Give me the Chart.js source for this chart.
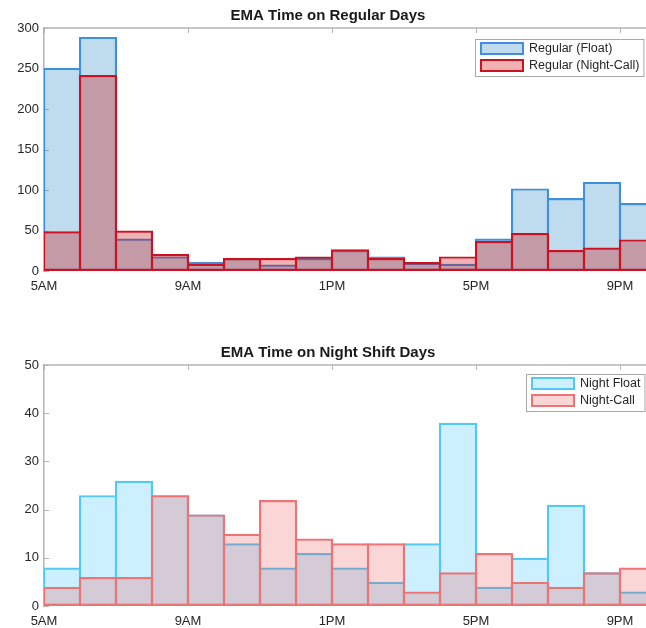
<!DOCTYPE html>
<html>
<head>
<meta charset="utf-8">
<script src="https://cdn.jsdelivr.net/npm/chart.js@4.4.0/dist/chart.umd.min.js"></script>
<style>
  html, body { margin:0; padding:0; background:#fff; overflow:hidden; width:646px; height:628px; }
  .wrap { position:absolute; left:0; width:700px; }
</style>
</head>
<body>
<div class="wrap" style="top:0;height:300px"><canvas id="chart-regular"></canvas></div>
<div class="wrap" style="top:335px;height:293px"><canvas id="chart-night"></canvas></div>
<script>
// hour bins (start of each 1h bin, 5AM .. 9PM)
const binStarts   = [5,6,7,8,9,10,11,12,13,14,15,16,17,18,19,20,21];
const tickHours   = [5,9,13,17,21];
const tickLabels  = ['5AM','9AM','1PM','5PM','9PM'];

// EMA counts, regular days
const regularFloat     = [251,289,40,18,11,16,8,16,26,18,10,9,40,102,90,110,84];
const regularNightCall = [49,242,50,21,9,16,16,18,27,16,11,18,37,47,26,29,39];

// EMA counts, night shift days
const nightFloat = [8,23,26,23,19,13,8,11,8,5,13,38,4,10,21,7,3];
const nightCall  = [4,6,6,23,19,15,22,14,13,13,3,7,11,5,4,7,8];

const FONT = "'Liberation Sans', Arial, sans-serif";
Chart.defaults.font.family = FONT;
Chart.defaults.color = '#262626';

const toPoints = vals => binStarts.map((h, i) => ({x: h + 0.5, y: vals[i]}));

// axis frame: top line + inward tick marks (matlab style)
const axesFrame = {
  id: 'axesFrame',
  beforeDatasetsDraw(chart) {
    const {ctx, chartArea: a, scales: {x, y}} = chart;
    ctx.save();
    ctx.strokeStyle = '#b4b4b4';
    ctx.lineWidth = 1.5;
    ctx.beginPath(); ctx.moveTo(a.left, a.top); ctx.lineTo(a.right, a.top); ctx.stroke();
    ctx.lineWidth = 1;
    ctx.beginPath();
    x.ticks.forEach(t => {
      const px = Math.round(x.getPixelForValue(t.value)) + 0.5;
      ctx.moveTo(px, a.top); ctx.lineTo(px, a.top + 5);
    });
    y.ticks.forEach(t => {
      const py = Math.round(y.getPixelForValue(t.value)) + 0.5;
      ctx.moveTo(a.left, py); ctx.lineTo(a.left + 5, py);
    });
    ctx.stroke();
    ctx.restore();
  }
};

// boxed legend in the top-right corner of the axes
const boxLegend = {
  id: 'boxLegend',
  afterDraw(chart, args, opts) {
    const {ctx, chartArea: a} = chart;
    const sets = chart.data.datasets;
    ctx.save();
    ctx.font = '12.5px ' + FONT;
    const textW = Math.max(...sets.map(d => ctx.measureText(d.label).width));
    const sw = 44, sh = 13, rowH = 17;
    const w = 5 + sw + 5 + textW + 4;
    const h = sets.length * rowH + 3;
    const bx = Math.round(a.right - opts.right - w), by = Math.round(a.top + opts.top);
    ctx.fillStyle = '#fff';
    ctx.fillRect(bx, by, w, h);
    ctx.strokeStyle = '#a8a8a8'; ctx.lineWidth = 1;
    ctx.strokeRect(bx + 0.5, by + 0.5, w, h);
    sets.forEach((d, i) => {
      const ry = by + 3 + i * rowH;
      ctx.fillStyle = d.backgroundColor;
      ctx.fillRect(bx + 5, ry, sw, sh);
      ctx.strokeStyle = d.borderColor; ctx.lineWidth = 2;
      ctx.strokeRect(bx + 6, ry + 1, sw - 2, sh - 2);
      ctx.fillStyle = '#262626'; ctx.textBaseline = 'middle';
      ctx.fillText(d.label, bx + 5 + sw + 5, ry + sh / 2 + 0.5);
    });
    ctx.restore();
  }
};

function histChart(id, title, sets, yMax, yStep, titlePad, xHeight, legendPos) {
  return new Chart(document.getElementById(id), {
    type: 'bar',
    data: {
      datasets: sets.map(s => ({
        label: s.label, data: toPoints(s.values),
        backgroundColor: s.fill, borderColor: s.border, borderWidth: 2.2,
        borderSkipped: false, grouped: false, order: s.order,
        // slight overlap so neighbouring edges merge into one line
        barPercentage: 1.06, categoryPercentage: 1,
      }))
    },
    options: {
      responsive: true, maintainAspectRatio: false,
      animation: false, events: [],
      layout: {padding: {left: 0, right: 44, top: 0, bottom: 0}},
      plugins: {
        legend: {display: false},
        tooltip: {enabled: false},
        title: {display: true, text: title, color: '#1a1a1a',
                font: {size: 15, weight: 'bold'}, padding: titlePad},
        boxLegend: legendPos,
      },
      scales: {
        x: {
          type: 'linear', min: 5, max: 22, offset: false,
          afterBuildTicks: s => { s.ticks = tickHours.map(v => ({value: v})); },
          afterFit: s => { s.height = xHeight; },
          ticks: {callback: v => tickLabels[tickHours.indexOf(v)] ?? '', autoSkip: false,
                  maxRotation: 0, padding: 8, font: {size: 13}, color: '#262626'},
          grid: {display: false, drawTicks: false, offset: false},
          border: {display: false},
        },
        y: {
          min: 0, max: yMax,
          afterFit: s => { s.width = 44; },
          ticks: {stepSize: yStep, padding: 5, font: {size: 13}, color: '#262626'},
          grid: {display: false, drawTicks: false},
          border: {display: true, color: '#b4b4b4', width: 1.5},
        }
      }
    },
    plugins: [axesFrame, boxLegend]
  });
}

histChart('chart-regular', 'EMA Time on Regular Days', [
  {label: 'Regular (Float)',      values: regularFloat,     fill: 'rgba(0,114,189,0.25)', border: '#3f8fdb', order: 2},
  {label: 'Regular (Night-Call)', values: regularNightCall, fill: 'rgba(204,0,0,0.3)',    border: '#cc1122', order: 1},
], 300, 50, {top: 7, bottom: 3}, 29, {right: 13, top: 11});

histChart('chart-night', 'EMA Time on Night Shift Days', [
  {label: 'Night Float', values: nightFloat, fill: 'rgba(0,180,255,0.2)',  border: '#52c8f5', order: 2},
  {label: 'Night-Call',  values: nightCall,  fill: 'rgba(235,70,70,0.22)', border: '#ec7474', order: 1},
], 50, 10, {top: 9, bottom: 3}, 22, {right: 12, top: 9});
</script>
</body>
</html>
